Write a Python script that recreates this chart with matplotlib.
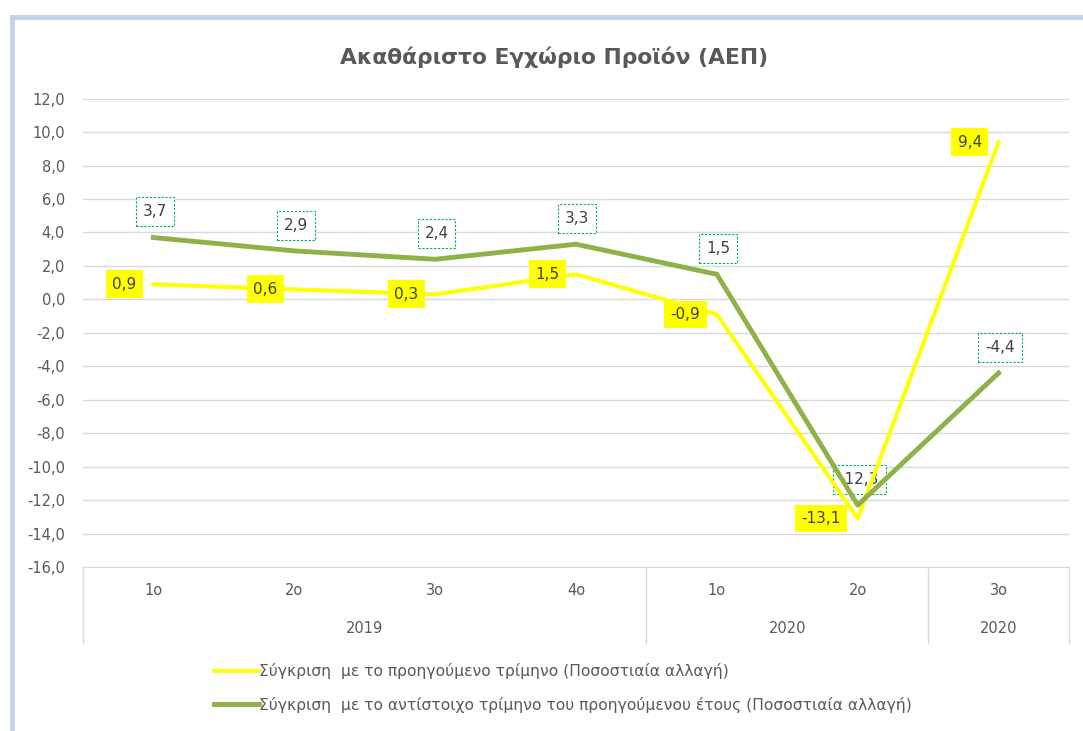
import matplotlib.pyplot as plt
from matplotlib.lines import Line2D
from matplotlib.transforms import blended_transform_factory

# δεδομένα
quarters = ["1ο", "2ο", "3ο", "4ο", "1ο", "2ο", "3ο"]
years = ["2019", "2020", "2020"]
year_spans = [(0, 3), (4, 5), (6, 6)]
qoq = [0.9, 0.6, 0.3, 1.5, -0.9, -13.1, 9.4]
yoy = [3.7, 2.9, 2.4, 3.3, 1.5, -12.3, -4.4]
qoq_name = "Σύγκριση  με το προηγούμενο τρίμηνο (Ποσοστιαία αλλαγή)"
yoy_name = "Σύγκριση  με το αντίστοιχο τρίμηνο του προηγούμενου έτους (Ποσοστιαία αλλαγή)"

yellow = "#FFFF00"
green = "#8FB14A"
txt = "#595959"

fig = plt.figure(figsize=(10.83, 7.31), dpi=100)
ax = fig.add_axes([0.0766, 0.2243, 0.9105, 0.6407])

x = list(range(len(quarters)))
ax.plot(x, qoq, color=yellow, lw=2.9, zorder=3, label=qoq_name)
ax.plot(x, yoy, color=green, lw=3.5, zorder=4, label=yoy_name)

for xi, v in zip(x, qoq):
    ax.annotate(f"{v:.1f}".replace(".", ","), (xi, v), xytext=(-12, 0),
                textcoords="offset points", ha="right", va="center",
                fontsize=11, color="#404040", zorder=5,
                bbox=dict(boxstyle="square,pad=0.42", fc=yellow, ec="none"))
for xi, v in zip(x, yoy):
    ax.annotate(f"{v:.1f}".replace(".", ","), (xi, v), xytext=(1, 18.5),
                textcoords="offset points", ha="center", va="center",
                fontsize=11, color="#404040", zorder=2,
                bbox=dict(boxstyle="square,pad=0.45", fc="white", ec="#00B050",
                          ls=(0, (2, 1.5)), lw=0.8))

ax.set_xlim(-0.5, 6.5)
ax.set_ylim(-16, 12)
ax.set_yticks(range(-16, 13, 2))
ax.set_yticklabels([f"{t:.1f}".replace(".", ",") for t in range(-16, 13, 2)])
ax.tick_params(axis="y", length=0, labelsize=10.5, labelcolor=txt, pad=13)
ax.set_xticks(x)
ax.set_xticklabels([])
ax.tick_params(axis="x", length=0)
ax.grid(axis="y", color="#D9D9D9", lw=1)
ax.set_axisbelow(True)
for s in ["top", "right", "left"]:
    ax.spines[s].set_visible(False)
ax.spines["bottom"].set_color("#D9D9D9")

# κατηγορίες σε δύο επίπεδα
tr = blended_transform_factory(ax.transData, ax.transAxes)
for xi, q in zip(x, quarters):
    ax.text(xi, -0.05, q, transform=tr, ha="center", va="center",
            fontsize=10.5, color=txt)
for y, (a, b) in zip(years, year_spans):
    ax.text((a + b) / 2, -0.132, y, transform=tr, ha="center", va="center",
            fontsize=10.5, color=txt)
for sx in [-0.5, 3.5, 5.5, 6.5]:
    ax.plot([sx, sx], [0, -0.162], transform=tr, color="#D9D9D9", lw=1,
            clip_on=False)

fig.text(0.512, 0.921, "Ακαθάριστο Εγχώριο Προϊόν (ΑΕΠ)", ha="center",
         va="center", fontsize=15.7, fontweight="bold", color=txt)

fig.legend(loc="upper left", bbox_to_anchor=(0.19, 0.103), frameon=False,
           fontsize=11.2, handlelength=2.9, handletextpad=0.05,
           labelspacing=1.1, labelcolor=txt, borderpad=0)

# πλαίσιο
fig.add_artist(Line2D([12 / 1083, 12 / 1083], [0, 1 - 17 / 731],
                      color="#C3D3E8", lw=3.5))
fig.add_artist(Line2D([12 / 1083, 1], [1 - 17 / 731, 1 - 17 / 731],
                      color="#C3D3E8", lw=3.5))

fig.savefig("out.png", dpi=100)
